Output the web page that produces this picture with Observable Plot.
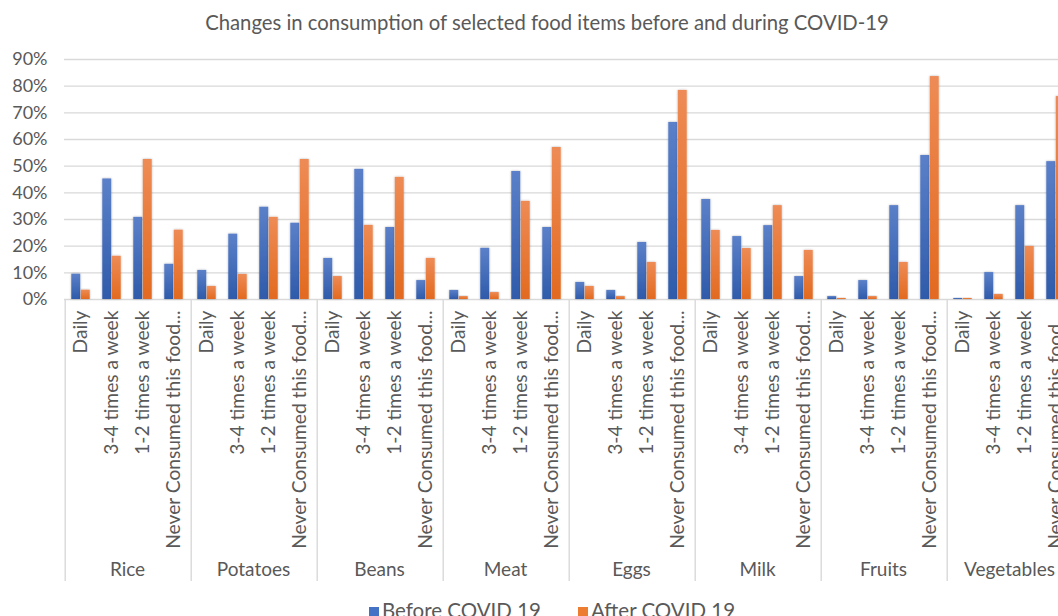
<!DOCTYPE html>
<html>
<head>
<meta charset="utf-8">
<script src="https://cdn.jsdelivr.net/npm/d3@7"></script>
<script src="https://cdn.jsdelivr.net/npm/@observablehq/plot@0.6"></script>
<style>
  html, body { margin: 0; padding: 0; background: #fff; overflow: hidden; }
  #wrap { position: relative; width: 1094px; height: 616px; font-family: Lato, "Open Sans", sans-serif; color: #595959; }
  #title { position: absolute; top: 9px; left: 0; width: 1094px; text-align: center; font-size: 20.3px; line-height: 26px; }
  #chart { position: absolute; top: 40px; left: 0; }
  #legend { position: absolute; top: 597px; left: 5px; width: 1094px; display: flex; justify-content: center; gap: 37px; font-size: 20.5px; line-height: 26px; }
  #legend .item { display: flex; align-items: center; gap: 3px; }
  #legend .sw { width: 10px; height: 10px; display: inline-block; margin-top: 4px; }
</style>
</head>
<body>
<div id="wrap">
  <div id="title"></div>
  <div id="chart"></div>
  <div id="legend"></div>
</div>
<script>
const chartTitle = "Changes in consumption of selected food items before and during COVID-19";
const foods = ["Rice", "Potatoes", "Beans", "Meat", "Eggs", "Milk", "Fruits", "Vegetables"];
const frequencies = ["Daily", "3-4 times a week", "1-2 times a week", "Never Consumed this food..."];
const seriesNames = ["Before COVID 19", "After COVID 19"];
const seriesColors = ["#4472C4", "#ED7D31"];
// percent values, one row per food, in frequency order
const beforeCovid = [
  [9.5, 45.2, 30.8, 13.2],
  [10.9, 24.5, 34.6, 28.6],
  [15.4, 48.8, 27.0, 7.1],
  [3.4, 19.2, 48.0, 27.0],
  [6.4, 3.4, 21.4, 66.4],
  [37.5, 23.6, 27.7, 8.6],
  [1.1, 7.1, 35.2, 54.0],
  [0.4, 10.1, 35.2, 51.7]
];
const afterCovid = [
  [3.5, 16.2, 52.5, 26.0],
  [4.9, 9.4, 30.8, 52.5],
  [8.6, 27.8, 45.8, 15.4],
  [1.1, 2.6, 36.8, 57.0],
  [4.9, 1.1, 13.9, 78.4],
  [25.9, 19.1, 35.2, 18.4],
  [0.4, 1.1, 13.9, 83.6],
  [0.4, 1.9, 19.9, 76.1]
];
const yTicks = [0, 10, 20, 30, 40, 50, 60, 70, 80, 90];

const rows = foods.flatMap((food, i) =>
  frequencies.map((freq, j) => ({food, freq, before: beforeCovid[i][j], after: afterCovid[i][j]}))
);

// layout
const W = 1094, H = 542, mL = 63, mR = 21, mT = 19, mB = 283;
const bw = (W - mL - mR) / foods.length / frequencies.length;
const barW = 9.5;
const grid = "#d9d9d9";
const textColor = "#595959";

document.getElementById("title").textContent = chartTitle;

const plot = Plot.plot({
  width: W,
  height: H,
  marginLeft: mL,
  marginRight: mR,
  marginTop: mT,
  marginBottom: mB,
  style: {fontFamily: "Lato, 'Open Sans', sans-serif", color: textColor, background: "transparent", overflow: "visible"},
  fx: {domain: foods, padding: 0},
  x: {domain: frequencies, padding: 0},
  y: {domain: [0, 90]},
  marks: [
    Plot.ruleY(yTicks, {y: d => d, stroke: grid, strokeWidth: 1.4}),
    Plot.ruleX(foods, {fx: d => d, x: () => frequencies[0], dx: -bw / 2, insetTop: H - mT - mB, insetBottom: -(mB - 1), stroke: grid, strokeWidth: 1.4}),
    Plot.barY(rows, {fx: "food", x: "freq", y: "before", fill: "url(#gradBefore)", insetLeft: bw / 2 - barW, insetRight: bw / 2}),
    Plot.barY(rows, {fx: "food", x: "freq", y: "after", fill: "url(#gradAfter)", insetLeft: bw / 2, insetRight: bw / 2 - barW}),
    Plot.axisY(yTicks, {tickFormat: d => d + "%", tickSize: 0, tickPadding: 17, fontSize: 18, color: textColor, label: null}),
    Plot.axisX({tickRotate: -90, tickSize: 0, tickPadding: 11, fontSize: 19.2, color: textColor, label: null}),
    Plot.axisFx({anchor: "bottom", tickSize: 0, tickPadding: 263, fontSize: 19, color: textColor, label: null})
  ]
});

// gradients & soft shadow for bars (Excel style)
const ns = "http://www.w3.org/2000/svg";
const defs = document.createElementNS(ns, "defs");
defs.innerHTML = `
  <linearGradient id="gradBefore" x1="0" y1="0" x2="0" y2="1">
    <stop offset="0" stop-color="#5B80C9"/>
    <stop offset="1" stop-color="#2F5BAA"/>
  </linearGradient>
  <linearGradient id="gradAfter" x1="0" y1="0" x2="0" y2="1">
    <stop offset="0" stop-color="#EE8B55"/>
    <stop offset="1" stop-color="#E26A20"/>
  </linearGradient>
  <filter id="barShadow" x="-50%" y="-10%" width="200%" height="120%">
    <feDropShadow dx="0" dy="0" stdDeviation="1.2" flood-color="#000" flood-opacity="0.3"/>
  </filter>`;
plot.insertBefore(defs, plot.firstChild);
plot.querySelectorAll("rect").forEach(r => {
  const f = r.getAttribute("fill") || (r.parentNode && r.parentNode.getAttribute("fill"));
  if (f && f.startsWith("url(")) r.setAttribute("filter", "url(#barShadow)");
});
document.getElementById("chart").appendChild(plot);

// legend
const legend = document.getElementById("legend");
seriesNames.forEach((name, i) => {
  const item = document.createElement("span");
  item.className = "item";
  const sw = document.createElement("span");
  sw.className = "sw";
  sw.style.background = seriesColors[i];
  const label = document.createElement("span");
  label.textContent = name;
  item.appendChild(sw);
  item.appendChild(label);
  legend.appendChild(item);
});
</script>
</body>
</html>
